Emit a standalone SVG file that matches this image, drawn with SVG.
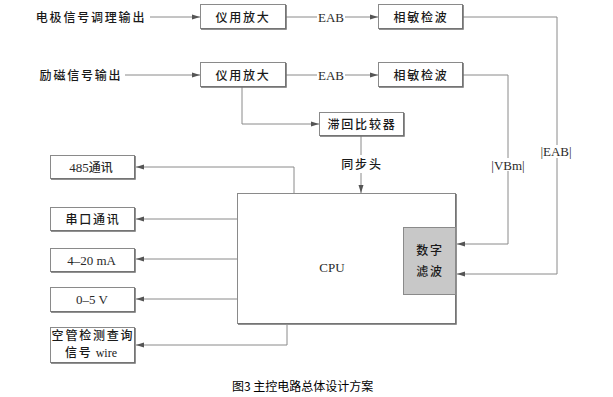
<svg xmlns="http://www.w3.org/2000/svg" width="613" height="397" viewBox="0 0 613 397">
<style>
.box{fill:#fff;stroke:#8a8a8a;stroke-width:1}
.sh{fill:none;stroke:#6e6e6e;stroke-width:1.5}
.ln{fill:none;stroke:#8a8a8a;stroke-width:1}
.cn{font-family:"Noto Sans CJK SC","Liberation Sans",sans-serif;font-size:12px;fill:#1a1a1a;letter-spacing:1.8px;text-anchor:middle;font-weight:500}
.sr{font-family:"Liberation Serif",serif;font-size:13px;fill:#2a2a2a;text-anchor:middle}
.cap{font-family:"Noto Sans CJK SC","Liberation Sans",sans-serif;font-size:12px;fill:#000}
</style>
<defs>
<marker id="ar" viewBox="0 0 8 6" refX="8" refY="3" markerWidth="8" markerHeight="6" markerUnits="userSpaceOnUse" orient="auto">
<path d="M0,0.5 L8,3 L0,5.5 z" fill="#555"/>
</marker>
</defs>
<rect width="613" height="397" fill="#fff"/>

<g id="connectors">
<path class="ln" d="M150,17 H200" marker-end="url(#ar)"/>
<path class="ln" d="M125,75 H200" marker-end="url(#ar)"/>
<path class="ln" d="M286,17 H317 M345,17 H378" marker-end="url(#ar)"/>
<path class="ln" d="M286,75 H317 M345,75 H378" marker-end="url(#ar)"/>
<path class="ln" d="M242,87 V124 H319" marker-end="url(#ar)"/>
<path class="ln" d="M361,136 V155 M361,173 V193" marker-end="url(#ar)"/>
<path class="ln" d="M463,17 H557 V145 M557,158 V274 H457" marker-end="url(#ar)"/>
<path class="ln" d="M463,75 H508 V158 M508,171 V244 H457" marker-end="url(#ar)"/>
<path class="ln" d="M294,193 V167 H136" marker-end="url(#ar)"/>
<path class="ln" d="M237,219 H136" marker-end="url(#ar)"/>
<path class="ln" d="M237,259 H136" marker-end="url(#ar)"/>
<path class="ln" d="M237,299 H136" marker-end="url(#ar)"/>
<path class="ln" d="M287,325 V345 H136" marker-end="url(#ar)"/>
</g>

<g id="label-electrode"><text class="cn" x="91" y="21.5">电极信号调理输出</text></g>
<g id="label-excitation"><text class="cn" x="81" y="79.5">励磁信号输出</text></g>

<g id="amp1"><rect class="box" x="200.5" y="4.5" width="85" height="24"/><path class="sh" d="M286,5 V29 H201"/><text class="cn" x="243" y="21.5">仪用放大</text></g>
<g id="amp2"><rect class="box" x="200.5" y="62.5" width="85" height="24"/><path class="sh" d="M286,63 V87 H201"/><text class="cn" x="243" y="79.5">仪用放大</text></g>

<g id="eab1"><text class="sr" x="331" y="21.5">EAB</text></g>
<g id="eab2"><text class="sr" x="331" y="79.5">EAB</text></g>

<g id="psd1"><rect class="box" x="378.5" y="4.5" width="84" height="24"/><path class="sh" d="M463,5 V29 H379"/><text class="cn" x="421" y="21.5">相敏检波</text></g>
<g id="psd2"><rect class="box" x="378.5" y="62.5" width="84" height="24"/><path class="sh" d="M463,63 V87 H379"/><text class="cn" x="421" y="79.5">相敏检波</text></g>

<g id="comparator"><rect class="box" x="319.5" y="112.5" width="84" height="23"/><path class="sh" d="M404,113 V136 H320"/><text class="cn" x="362" y="129">滞回比较器</text></g>

<g id="sync"><text class="cn" x="362" y="169">同步头</text></g>
<g id="vbm"><text class="sr" x="508" y="169.5">|VBm|</text></g>
<g id="eababs"><text class="sr" x="556" y="156">|EAB|</text></g>

<g id="cpu"><rect class="box" x="237.5" y="193.5" width="218" height="130"/><path class="sh" d="M456,194 V324 H238"/><text class="sr" x="332" y="271.5">CPU</text></g>
<g id="filter"><rect x="403.5" y="227.5" width="52" height="67" fill="#c8c8c8" stroke="#8a8a8a"/><text class="cn" x="430" y="255">数字</text><text class="cn" x="430" y="276">滤波</text></g>

<g id="rs485"><rect class="box" x="50.5" y="155.5" width="84" height="23"/><path class="sh" d="M135,156 V179 H51"/><text class="sr" x="91" y="172">485<tspan font-family="Noto Sans CJK SC,sans-serif" font-weight="500" font-size="12">通讯</tspan></text></g>
<g id="serial"><rect class="box" x="50.5" y="207.5" width="84" height="23"/><path class="sh" d="M135,208 V231 H51"/><text class="cn" x="93" y="224">串口通讯</text></g>
<g id="ma"><rect class="box" x="50.5" y="248.5" width="84" height="23"/><path class="sh" d="M135,249 V272 H51"/><text class="sr" x="91.5" y="264.5">4–20 mA</text></g>
<g id="volt"><rect class="box" x="50.5" y="287.5" width="84" height="24"/><path class="sh" d="M135,288 V312 H51"/><text class="sr" x="92" y="304">0–5 V</text></g>
<g id="empty"><rect class="box" x="50.5" y="327.5" width="84" height="35"/><path class="sh" d="M135,328 V363 H51"/><text class="cn" x="93" y="340" font-size="11" letter-spacing="2.2">空管检测查询</text><text class="cn" x="91" y="357" font-size="11" letter-spacing="2">信号<tspan letter-spacing="0" font-family="Liberation Serif,serif" font-weight="normal" font-size="12"> wire</tspan></text></g>

<g id="caption"><text class="cap" x="232" y="391">图3 主控电路总体设计方案</text></g>
</svg>
